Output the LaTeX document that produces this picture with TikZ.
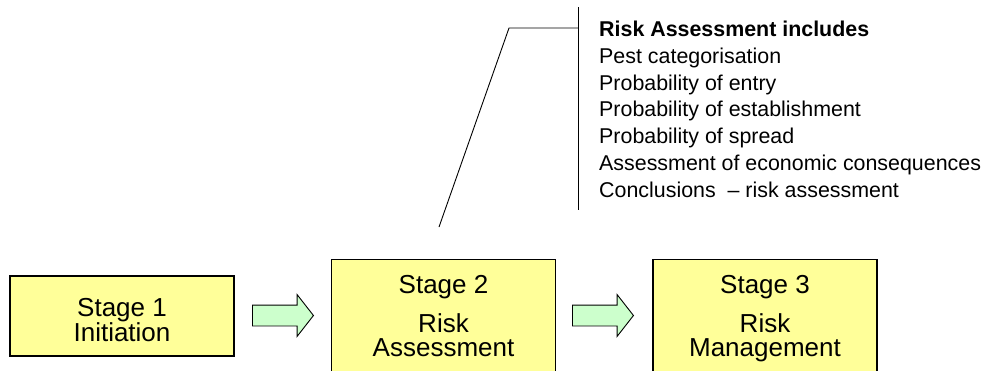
\documentclass[tikz,border=0pt]{standalone}
\usepackage{fontspec}
\setmainfont{Liberation Sans}
\usetikzlibrary{shapes,arrows}
\definecolor{stageyellow}{HTML}{FFFF99}
\definecolor{arrowgreen}{HTML}{CCFFCC}
\tikzstyle{block} = [rectangle, draw, fill=stageyellow, line width=1.1pt, minimum width=224pt, inner sep=0pt]
\tikzstyle{stagetext} = [align=center, font=\fontsize{26}{24}\selectfont, inner sep=0pt, text depth=0pt]
\tikzstyle{fat} = [single arrow, draw, fill=arrowgreen, line width=0.9pt, minimum height=61pt, inner xsep=0pt, inner ysep=10pt, single arrow head extend=10.5pt, single arrow tip angle=104, anchor=tail]
\tikzstyle{line} = [draw, line width=0.9pt]

\begin{document}
\begin{tikzpicture}[x=1pt, y=-1pt]
					\path [use as bounding box, clip] (0,0) rectangle (981,370);
					\node [block, minimum height=80pt] (initiation) at (122,316) {};
					\node [block, minimum height=130pt, anchor=north] (assessment) at (443.5,259) {};
					\node [block, minimum height=130pt, anchor=north] (management) at (765,259) {};
					\node [stagetext] (initiationtext) at (122,320) {Stage 1\\Initiation};
					\node [stagetext] (assessmenttext) at (443.5,316) {Stage 2\\[14pt]Risk\\Assessment};
					\node [stagetext] (managementtext) at (765,316) {Stage 3\\[14pt]Risk\\Management};
					\node [fat] (arrowa) at (252,315.5) {};
					\node [fat] (arrowb) at (572,315.5) {};
					\coordinate (foot) at (439,227);
					\coordinate (knee) at (509,28);
					\coordinate (bartop) at (578,7);
					\coordinate (barbottom) at (578,210);
					\path [line] (foot) -- (knee) -- (knee -| bartop);
					\path [line] (bartop) -- (barbottom);
					\node [anchor=north west, align=left, inner sep=0pt, font=\fontsize{21.4}{26.9}\selectfont] (includes) at (599,20.5) {\textbf{Risk Assessment includes}\\Pest categorisation\\Probability of entry\\Probability of establishment\\Probability of spread\\Assessment of economic consequences\\Conclusions~~-- risk~assessment};
				\end{tikzpicture}
\end{document}
